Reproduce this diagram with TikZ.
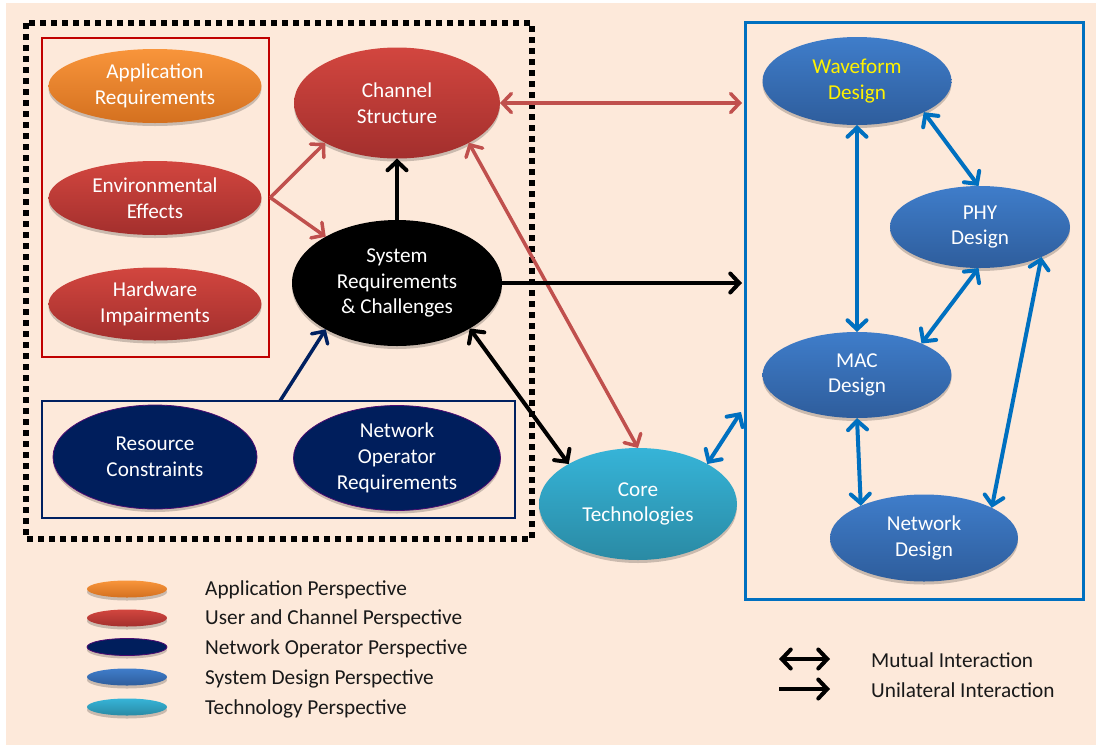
\documentclass[tikz,border=0pt]{standalone}
\usepackage{fontspec}
\setmainfont{Carlito}
\usetikzlibrary{shapes.geometric,arrows.meta,shadows,calc}

\definecolor{bgpeach}{HTML}{FDE9DA}
\definecolor{orgtop}{HTML}{F8953B}
\definecolor{orgbot}{HTML}{D4701F}
\definecolor{redtop}{HTML}{D2463F}
\definecolor{redbot}{HTML}{A32F2D}
\definecolor{navyfill}{HTML}{001E5C}
\definecolor{bluetop}{HTML}{3F7DCA}
\definecolor{bluebot}{HTML}{2E5D9C}
\definecolor{cyantop}{HTML}{36B4D8}
\definecolor{cyanbot}{HTML}{2A8AA4}
\definecolor{boxred}{HTML}{C00000}
\definecolor{boxnavy}{HTML}{002060}
\definecolor{boxblue}{HTML}{0070C0}
\definecolor{arrred}{HTML}{C0504D}

\tikzset{
  bubble/.style={ellipse, inner sep=0pt, outer sep=0pt, align=center, text=white,
    font=\fontsize{21.2}{25.8}\selectfont,
    drop shadow={shadow xshift=0pt, shadow yshift=-3pt, opacity=0.2, fill=black}},
  apporange/.style={bubble, top color=orgtop, bottom color=orgbot},
  userred/.style={bubble, top color=redtop, bottom color=redbot},
  opnavy/.style={bubble, fill=navyfill, draw=violet!60!navyfill, line width=0.8pt},
  sysblue/.style={bubble, top color=bluetop, bottom color=bluebot},
  techcyan/.style={bubble, top color=cyantop, bottom color=cyanbot},
  blackbub/.style={bubble, fill=black},
  legbub/.style={minimum width=80pt, minimum height=17pt},
  legtext/.style={anchor=west, inner sep=0pt, text=black!90, font=\fontsize{21.3}{24}\selectfont},
  onearrow/.style={line width=#1, -{Straight Barb[length=9pt, width=19pt, line cap=round]}},
  twoarrow/.style={line width=#1, {Straight Barb[length=9pt, width=19pt, line cap=round]}-{Straight Barb[length=9pt, width=19pt, line cap=round]}},
  redlink/.style={twoarrow=3.5pt, draw=arrred},
  redone/.style={onearrow=3.5pt, draw=arrred},
  blacklink/.style={twoarrow=4pt, draw=black},
  blackone/.style={onearrow=4pt, draw=black},
  bluelink/.style={twoarrow=4pt, draw=boxblue},
}

\begin{document}
\begin{tikzpicture}[x=1pt, y=-1pt]
  \useasboundingbox (0,0) rectangle (1096,748);
  \fill[white] (0,0) rectangle (1096,748);
  \fill[bgpeach] (6,3) rectangle (1096,745);

  % grouping frames
  \draw[black, line width=6pt, dash pattern=on 6pt off 5pt] (26,23) rectangle (532,539);
  \node[draw=boxred, line width=2.5pt, minimum width=227pt, minimum height=319pt, inner sep=0pt] (rbox) at (155.5,197.5) {};
  \node[draw=boxnavy, line width=2.5pt, minimum width=473pt, minimum height=117pt, inner sep=0pt] (nbox) at (278.5,459.5) {};
  \node[draw=boxblue, line width=3pt, minimum width=338pt, minimum height=577pt, inner sep=0pt] (rb) at (914,310.5) {};

  % perspective bubbles
  \node[apporange, minimum width=213pt, minimum height=74pt] (app) at (155,86) {Application\\Requirements};
  \node[userred, minimum width=213pt, minimum height=74pt] (env) at (155,198) {Environmental\\Effects};
  \node[userred, minimum width=213pt, minimum height=73pt] (hw) at (155,304) {Hardware\\Impairments};
  \node[userred, minimum width=206pt, minimum height=111pt] (cs) at (397,103) {Channel\\Structure};
  \node[blackbub, minimum width=210pt, minimum height=126pt] (sys) at (397,283) {System\\Requirements\\\& Challenges};
  \node[opnavy, minimum width=204pt, minimum height=104pt] (rc) at (155,457) {Resource\\Constraints};
  \node[opnavy, minimum width=207pt, minimum height=105pt] (nor) at (397,458) {Network\\Operator\\Requirements};
  \node[techcyan, minimum width=198pt, minimum height=112pt] (ct) at (638,504) {Core\\Technologies};
  \node[sysblue, minimum width=189pt, minimum height=88pt, text=yellow] (wf) at (857,81) {Waveform\\Design};
  \node[sysblue, minimum width=180pt, minimum height=82pt] (phy) at (980,227) {PHY\\Design};
  \node[sysblue, minimum width=189pt, minimum height=86pt] (mac) at (857,375) {MAC\\Design};
  \node[sysblue, minimum width=188pt, minimum height=87pt] (nd) at (924,538) {Network\\Design};

  % free ends of connectors
  \coordinate (rbin1) at (742,103);
  \coordinate (rbin2) at (742,283);
  \coordinate (rbin3) at (741,412);
  \coordinate (nstart) at (280,401);

  % interactions
  \draw[redlink] (cs.east) -- (rbin1);
  \draw[redone] (rbox.east) -- (cs.209);
  \draw[redone] (rbox.east) -- (sys.147);
  \draw[blackone] (sys.north) -- (cs.south);
  \draw[redlink] (cs.-29) -- (ct.north);
  \draw[blacklink] (sys.-32) -- (ct.150);
  \draw[blackone] (sys.east) -- (rbin2);
  \draw[onearrow=3.5pt, draw=boxnavy] (nstart) -- (sys.213);
  \draw[bluelink] (ct.30) -- (rbin3);
  \draw[bluelink] (wf.south) -- (mac.north);
  \draw[bluelink] (wf.-25) -- (phy.92);
  \draw[bluelink] (phy.-92) -- (mac.26);
  \draw[bluelink] (phy.-26) -- (nd.24);
  \draw[bluelink] (mac.south) -- (nd.153);

  % colour legend
  \node[apporange, legbub] (l1) at (127,589) {};
  \node[userred, legbub] (l2) at (127,618) {};
  \node[opnavy, legbub] (l3) at (127,647) {};
  \node[sysblue, legbub] (l4) at (127,677) {};
  \node[techcyan, legbub] (l5) at (127,707) {};
  \node[legtext] (t1) at (205,590) {Application Perspective};
  \node[legtext] (t2) at (205,619) {User and Channel Perspective};
  \node[legtext] (t3) at (205,649) {Network Operator Perspective};
  \node[legtext] (t4) at (205,679) {System Design Perspective};
  \node[legtext] (t5) at (205,709) {Technology Perspective};

  % arrow legend
  \coordinate (m1) at (779,659);
  \coordinate (m2) at (830,659);
  \coordinate (u1) at (779,689);
  \coordinate (u2) at (830,689);
  \draw[blacklink] (m1) -- (m2);
  \draw[blackone] (u1) -- (u2);
  \node[legtext] (t6) at (871,660) {Mutual Interaction};
  \node[legtext] (t7) at (871,690) {Unilateral Interaction};
\end{tikzpicture}
\end{document}
